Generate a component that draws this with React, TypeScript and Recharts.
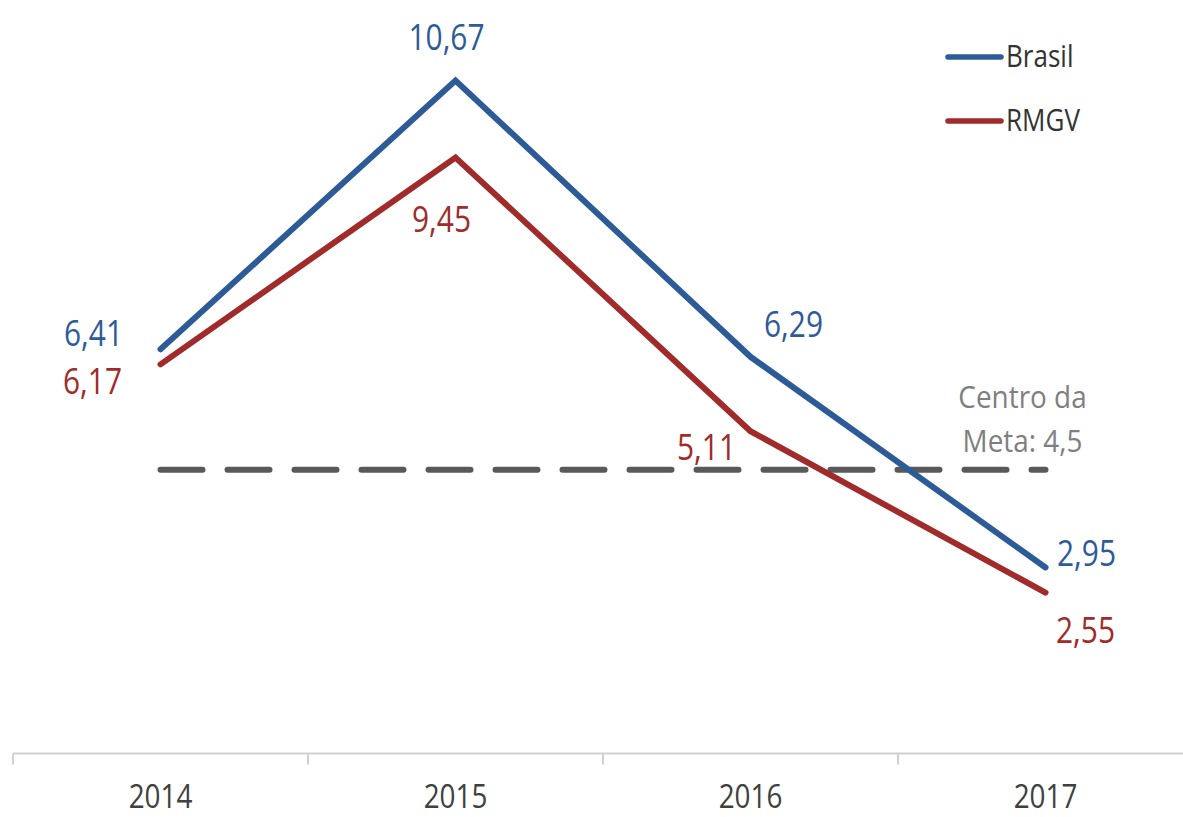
import React from 'react';
import { LineChart, Line, XAxis, YAxis, LabelList, Legend } from 'recharts';

const categories = ['2014', '2015', '2016', '2017'];
const brasilValues = [6.41, 10.67, 6.29, 2.95];
const rmgvValues = [6.17, 9.45, 5.11, 2.55];
const metaValues = [4.5, 4.5, 4.5, 4.5];
const metaLabelLines = ['Centro da', 'Meta: 4,5'];
const seriesNames = ['Brasil', 'RMGV'];
const yDomain = [0, 11.9];
const xDomain = [-0.5, 3.5];
const boundaryTicks = [-0.5, 0.5, 1.5, 2.5, 3.5];
const centerTicks = [0, 1, 2, 3];

// label placement (style only)
const brasilLabelOffsets = [[-67, -3.5], [-9, -31], [43, -20], [41, -1]];
const rmgvLabelOffsets = [[-68, 30], [-14, 74], [-44, 29], [40, 50]];

const BLUE = '#2D5B98';
const RED = '#A12B2B';
const GRAY = '#595959';
const FONT = '"Open Sans", "Noto Sans", sans-serif';

const data = categories.map((c, i) => ({
  idx: i,
  year: c,
  brasil: brasilValues[i],
  rmgv: rmgvValues[i],
  meta: metaValues[i],
}));

const fmt = (v: number) => v.toFixed(2).replace('.', ',');

const makeValueLabel = (color: string, offsets: number[][]) => (props: any) => {
  const { x, y, value, index } = props;
  const [dx, dy] = offsets[index];
  return (
    <text
      transform={`translate(${x + dx},${y + dy}) scale(0.83,1)`}
      textAnchor="middle"
      fill={color}
      fontFamily={FONT}
      fontSize={36}
    >
      {fmt(Number(value))}
    </text>
  );
};

const MetaLabel = (props: any) => {
  const { x, y, index } = props;
  if (index !== metaValues.length - 1) return null;
  return (
    <g>
      {metaLabelLines.map((t, i) => (
        <text
          key={i}
          transform={`translate(${x - 23},${y - 62 + i * 44}) scale(0.9,1)`}
          textAnchor="middle"
          fill="#7F7F7F"
          fontFamily={FONT}
          fontSize={31}
        >
          {t}
        </text>
      ))}
    </g>
  );
};

const CategoryTick = (props: any) => {
  const { x, payload } = props;
  return (
    <text
      transform={`translate(${x},808) scale(0.87,1)`}
      textAnchor="middle"
      fill="#404040"
      fontFamily={FONT}
      fontSize={32}
    >
      {categories[payload.value]}
    </text>
  );
};

const EmptyTick = () => <g />;

const LegendContent = () => {
  const colors = [BLUE, RED];
  return (
    <svg width={200} height={120} style={{ display: 'block' }}>
      {seriesNames.map((n, i) => (
        <g key={n} transform={`translate(0,${i * 64})`}>
          <line x1={3} y1={27} x2={56} y2={27} stroke={colors[i]} strokeWidth={5.5} strokeLinecap="round" />
          <text
            transform={`translate(61,37) scale(0.84,1)`}
            fill="#333333"
            fontFamily={FONT}
            fontSize={31}
          >
            {n}
          </text>
        </g>
      ))}
    </svg>
  );
};

export default function App() {
  return (
    <div
      style={{
        position: 'absolute',
        left: 0,
        top: 0,
        width: 1183,
        height: 817,
        overflow: 'hidden',
        background: '#ffffff',
      }}
    >
      <LineChart
        width={1200}
        height={817}
        data={data}
        margin={{ top: 3, right: 7, bottom: 0, left: 13 }}
      >
        <XAxis
          xAxisId="main"
          dataKey="idx"
          type="number"
          domain={xDomain}
          ticks={centerTicks}
          interval={0}
          allowDataOverflow
          height={62.5}
          axisLine={false}
          tickLine={false}
          tickSize={0}
          tickMargin={0}
          tick={CategoryTick}
        />
        <XAxis
          xAxisId="a"
          dataKey="idx"
          type="number"
          domain={xDomain}
          ticks={boundaryTicks}
          interval={0}
          allowDataOverflow
          height={1}
          tick={EmptyTick}
          tickSize={11}
          axisLine={{ stroke: '#D0D0D0', strokeWidth: 2 }}
          tickLine={{ stroke: '#D0D0D0', strokeWidth: 2 }}
        />
        <YAxis hide domain={yDomain} allowDataOverflow />
        <Legend
          layout="horizontal"
          verticalAlign="middle"
          align="center"
          content={LegendContent}
          wrapperStyle={{ position: 'absolute', left: 945, top: 30, width: 200, height: 120 }}
        />
        <Line
          xAxisId="a"
          dataKey="meta"
          stroke={GRAY}
          strokeWidth={6}
          strokeDasharray="42 25"
          strokeLinecap="round"
          dot={false}
          activeDot={false}
          legendType="none"
          isAnimationActive={false}
        >
          <LabelList dataKey="meta" content={MetaLabel} />
        </Line>
        <Line
          xAxisId="main"
          dataKey="brasil"
          name="Brasil"
          stroke={BLUE}
          strokeWidth={6}
          strokeLinecap="round"
          strokeLinejoin="miter"
          dot={false}
          activeDot={false}
          isAnimationActive={false}
        >
          <LabelList dataKey="brasil" content={makeValueLabel(BLUE, brasilLabelOffsets)} />
        </Line>
        <Line
          xAxisId="main"
          dataKey="rmgv"
          name="RMGV"
          stroke={RED}
          strokeWidth={6}
          strokeLinecap="round"
          strokeLinejoin="miter"
          dot={false}
          activeDot={false}
          isAnimationActive={false}
        >
          <LabelList dataKey="rmgv" content={makeValueLabel(RED, rmgvLabelOffsets)} />
        </Line>
      </LineChart>
    </div>
  );
}
